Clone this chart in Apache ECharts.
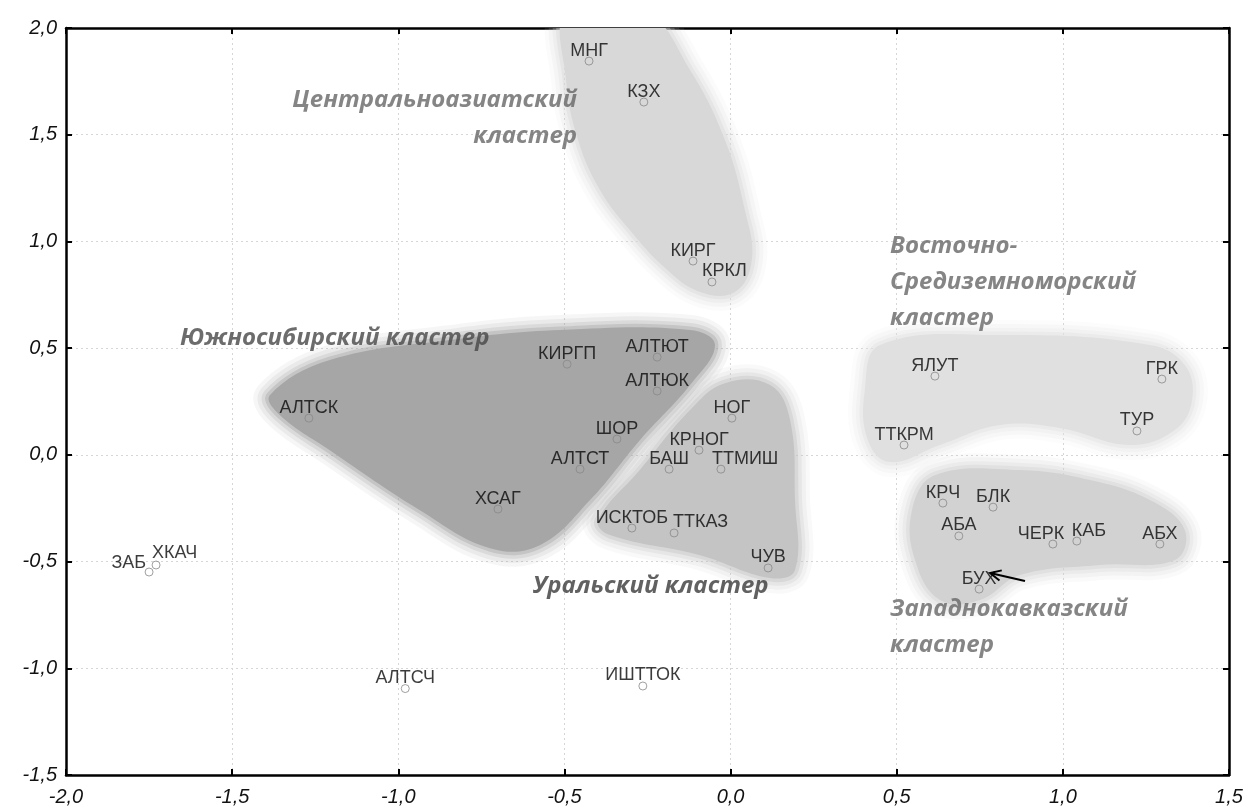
<!DOCTYPE html>
<html><head><meta charset="utf-8">
<script src="https://cdn.jsdelivr.net/npm/echarts@6/dist/echarts.min.js"></script>
<style>html,body{margin:0;padding:0;background:#fff}#c{width:1248px;height:811px}</style>
</head><body><div id="c"></div>
<script>
// ---- data ----
const pointNames = ['МНГ','КЗХ','КИРГ','КРКЛ','АЛТСК','КИРГП','АЛТЮТ','АЛТЮК','ШОР','АЛТСТ','ХСАГ','ИСКТОБ',
  'НОГ','КРНОГ','БАШ','ТТМИШ','ТТКАЗ','ЧУВ','ЯЛУТ','ГРК','ТУР','ТТКРМ','КРЧ','БЛК','АБА','ЧЕРК','КАБ','АБХ','БУХ',
  'ХКАЧ','ЗАБ','АЛТСЧ','ИШТТОК'];
const pointX = [-0.426,-0.261,-0.113,-0.056,-1.269,-0.492,-0.221,-0.221,-0.342,-0.453,-0.700,-0.297,
  0.004,-0.095,-0.185,-0.029,-0.170,0.113,0.615,1.298,1.223,0.522,0.639,0.790,0.687,0.970,1.042,1.292,0.748,
  -1.729,-1.750,-0.979,-0.264];
const pointY = [1.845,1.653,0.908,0.810,0.172,0.425,0.458,0.299,0.074,-0.067,-0.254,-0.343,
  0.172,0.022,-0.067,-0.067,-0.366,-0.530,0.369,0.355,0.112,0.046,-0.226,-0.245,-0.380,-0.418,-0.404,-0.418,-0.629,
  -0.516,-0.549,-1.095,-1.083];

const xTickValues = [-2.0,-1.5,-1.0,-0.5,0.0,0.5,1.0,1.5];
const xTickLabels = ['-2,0','-1,5','-1,0','-0,5','0,0','0,5','1,0','1,5'];
const yTickValues = [-1.5,-1.0,-0.5,0.0,0.5,1.0,1.5,2.0];
const yTickLabels = ['-1,5','-1,0','-0,5','0,0','0,5','1,0','1,5','2,0'];

// cluster outlines (data coordinates)
const outlineCentralAsia = [[-0.492,2.08],[-0.258,2.08],[-0.122,1.803],[-0.017,1.475],[0.043,1.147],[0.064,0.913],
  [0.013,0.763],[-0.092,0.763],[-0.197,0.875],[-0.303,1.053],[-0.393,1.241],[-0.459,1.475],[-0.495,1.756]];
const outlineSouthSiberia = [[-1.386,0.280],[-1.206,0.444],[-0.844,0.538],[-0.513,0.585],[-0.122,0.585],[-0.047,0.515],
  [-0.122,0.327],[-0.273,0.069],[-0.423,-0.212],[-0.574,-0.423],[-0.724,-0.437],[-0.935,-0.259],[-1.206,0.022],[-1.356,0.186]];
const outlineUral = [[-0.017,0.336],[0.119,0.327],[0.179,0.163],[0.194,-0.212],[0.194,-0.540],[0.119,-0.577],
  [-0.092,-0.470],[-0.363,-0.376],[-0.399,-0.306],[-0.273,-0.071],[-0.122,0.210]];
const outlineEastMed = [[0.450,0.515],[0.811,0.561],[1.262,0.515],[1.367,0.421],[1.389,0.257],[1.337,0.116],[1.202,0.046],
  [0.991,0.126],[0.811,0.140],[0.630,0.046],[0.480,-0.034],[0.413,0.069],[0.404,0.304]];
const outlineWestCaucasus = [[0.615,-0.095],[0.871,-0.071],[1.082,-0.118],[1.262,-0.212],[1.367,-0.352],[1.337,-0.493],
  [1.112,-0.516],[0.871,-0.563],[0.751,-0.680],[0.630,-0.680],[0.555,-0.493],[0.546,-0.259]];

const clusterTexts = ['Центральноазиатский\nкластер','Южносибирский кластер','Уральский кластер',
  'Восточно-\nСредиземноморский\nкластер','Западнокавказский\nкластер'];
const clusterTextX = [-0.462,-1.657,-0.595,0.480,0.480];
const clusterTextY = [1.576,0.547,-0.615,0.810,-0.809];

const arrowFrom = [0.886,-0.591];
const arrowTo = [0.781,-0.554];

// ---- styles ----
const outlines = [outlineCentralAsia,outlineSouthSiberia,outlineUral,outlineEastMed,outlineWestCaucasus];
const blobRGB = [[216,216,216],[166,166,166],[196,196,196],[224,224,224],[210,210,210]];
const clusterAlign = ['right','left','left','left','left'];
const clusterColors = ['#666666','#474747','#3a3a3a','#666666','#666666'];
const labelAdjust = {
  'ЗАБ':{align:'right',offset:[-3,5]},
  'ХКАЧ':{align:'left',offset:[-4,2]},
  'ТТМИШ':{align:'left',offset:[-9,3]},
  'ТТКАЗ':{align:'left',offset:[-1,3]},
  'КРКЛ':{align:'left',offset:[-10,3]},
  'КАБ':{align:'left',offset:[-5,3]},
  'ЧЕРК':{offset:[-12,3]}
};

const fmt = (vals, labs) => v => { const i = vals.findIndex(t => Math.abs(t - v) < 1e-6); return i >= 0 ? labs[i] : ''; };

const axisLine = {show:true,onZero:false,lineStyle:{color:'#000',width:2.5}};
const axisTick = {show:true,inside:true,length:6,lineStyle:{color:'#000',width:2}};
const splitLine = {show:true,lineStyle:{color:'#d6d6d6',type:[2,3],width:1}};
const tickFont = {fontFamily:'Liberation Sans',fontStyle:'italic',fontSize:20,color:'#111'};

const chart = echarts.init(document.getElementById('c'), null, {renderer:'canvas'});
chart.setOption({
  backgroundColor:'#ffffff',
  animation:false,
  grid:{left:66,right:19,top:28,bottom:36,containLabel:false},
  xAxis:[
    {type:'value',min:-2,max:1.5,interval:0.5,position:'bottom',axisLine,axisTick,splitLine,
     axisLabel:Object.assign({margin:12,formatter:fmt(xTickValues,xTickLabels)},tickFont)},
    {type:'value',min:-2,max:1.5,interval:0.5,position:'top',axisLine,axisTick,splitLine:{show:false},axisLabel:{show:false}}
  ],
  yAxis:[
    {type:'value',min:-1.5,max:2,interval:0.5,position:'left',axisLine,axisTick,splitLine,
     axisLabel:Object.assign({margin:9,formatter:fmt(yTickValues,yTickLabels)},tickFont)},
    {type:'value',min:-1.5,max:2,interval:0.5,position:'right',axisLine,axisTick,splitLine:{show:false},axisLabel:{show:false}}
  ],
  series:[
    {
      type:'custom',coordinateSystem:'cartesian2d',clip:true,silent:true,z:1,
      data:outlines.map(o => o[0]),
      renderItem:(params, api) => {
        const pts = outlines[params.dataIndex].map(p => api.coord(p));
        const c = blobRGB[params.dataIndex];
        const rgba = a => 'rgba(' + c[0] + ',' + c[1] + ',' + c[2] + ',' + a + ')';
        const layers = [[30,0.1],[22,0.15],[14,0.24],[7,0.4]];
        const children = layers.map(l => ({type:'polygon',shape:{points:pts,smooth:0.4},
          style:{fill:null,stroke:rgba(l[1]),lineWidth:l[0],lineJoin:'round'}}));
        children.push({type:'polygon',shape:{points:pts,smooth:0.4},style:{fill:rgba(1),stroke:null}});
        return {type:'group',children};
      }
    },
    {
      type:'scatter',z:3,silent:true,
      data:clusterTexts.map((t,i) => ({name:t,value:[clusterTextX[i],clusterTextY[i]],
        label:{align:clusterAlign[i],color:clusterColors[i]}})),
      symbolSize:0,
      label:{show:true,position:'inside',formatter:'{b}',verticalAlign:'middle',
        fontFamily:'Open Sans',fontStyle:'italic',fontWeight:'bold',fontSize:24,lineHeight:36}
    },
    {
      type:'scatter',z:4,
      data:pointNames.map((n,i) => {
        const d = {name:n,value:[pointX[i],pointY[i]]};
        if (labelAdjust[n]) d.label = labelAdjust[n];
        return d;
      }),
      symbol:'circle',symbolSize:8,
      itemStyle:{color:'rgba(0,0,0,0)',borderColor:'#888888',borderWidth:1},
      label:{show:true,position:'top',distance:0,offset:[0,3],formatter:'{b}',
        fontFamily:'Liberation Sans',fontSize:18,color:'#0a0a0a'}
    },
    {
      type:'custom',coordinateSystem:'cartesian2d',z:5,silent:true,
      data:[[arrowFrom[0],arrowFrom[1],arrowTo[0],arrowTo[1]]],
      renderItem:(params, api) => {
        const p0 = api.coord([api.value(0),api.value(1)]);
        const p1 = api.coord([api.value(2),api.value(3)]);
        const ang = Math.atan2(p0[1]-p1[1], p0[0]-p1[0]);
        const L = 12, a = 0.45;
        const h1 = [p1[0]+L*Math.cos(ang+a), p1[1]+L*Math.sin(ang+a)];
        const h2 = [p1[0]+L*Math.cos(ang-a), p1[1]+L*Math.sin(ang-a)];
        const st = {stroke:'#000',lineWidth:2,fill:null};
        return {type:'group',children:[
          {type:'line',shape:{x1:p0[0],y1:p0[1],x2:p1[0],y2:p1[1]},style:st},
          {type:'polyline',shape:{points:[h1,p1,h2]},style:st}
        ]};
      }
    }
  ]
});
</script></body></html>
